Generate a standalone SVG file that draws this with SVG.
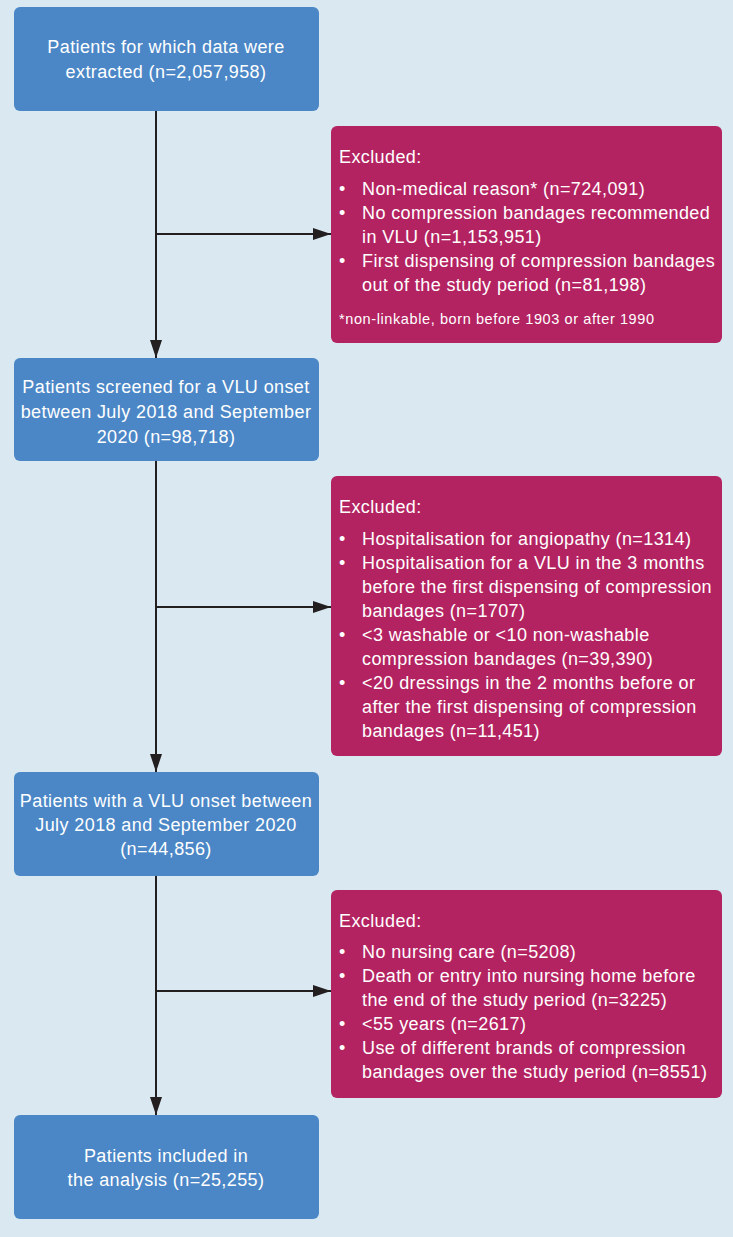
<svg xmlns="http://www.w3.org/2000/svg" width="733" height="1237" viewBox="0 0 733 1237">
<style>
.bg{fill:#d9e8f1}
.bx{fill:#4b87c6}
.ex{fill:#b42361}
.t{font-family:"Liberation Sans",Arial,sans-serif;font-size:18px;letter-spacing:0.4px;fill:#ffffff}
.c{text-anchor:middle}
.f{font-size:14.5px;letter-spacing:0.6px}
.ln{stroke:#231f20;stroke-width:2;fill:none}
</style>
<defs>
<marker id="ah" markerWidth="18" markerHeight="12" refX="18" refY="6" orient="auto" markerUnits="userSpaceOnUse">
<path d="M0,0 L18,6 L0,12 Z" fill="#231f20"/>
</marker>
</defs>
<rect class="bg" x="0" y="0" width="733" height="1237"/>
<g id="connectors">
<line class="ln" x1="156" y1="111" x2="156" y2="358" marker-end="url(#ah)"/>
<line class="ln" x1="156" y1="234" x2="331" y2="234" marker-end="url(#ah)"/>
<line class="ln" x1="156" y1="461" x2="156" y2="772" marker-end="url(#ah)"/>
<line class="ln" x1="156" y1="607" x2="331" y2="607" marker-end="url(#ah)"/>
<line class="ln" x1="156" y1="876" x2="156" y2="1115" marker-end="url(#ah)"/>
<line class="ln" x1="156" y1="991" x2="331" y2="991" marker-end="url(#ah)"/>
</g>
<g id="n1">
<rect class="bx" x="14" y="7" width="305" height="104" rx="6"/>
<text class="t c" x="166" y="53">Patients for which data were</text>
<text class="t c" x="166" y="78">extracted (n=2,057,958)</text>
</g>
<g id="e1">
<rect class="ex" x="331" y="126" width="391" height="217" rx="6"/>
<text class="t" x="339" y="163">Excluded:</text>
<text class="t" y="195"><tspan x="339">•</tspan><tspan x="362">Non-medical reason* (n=724,091)</tspan></text>
<text class="t" y="219"><tspan x="339">•</tspan><tspan x="362">No compression bandages recommended</tspan></text>
<text class="t" x="362" y="243">in VLU (n=1,153,951)</text>
<text class="t" y="267"><tspan x="339">•</tspan><tspan x="362">First dispensing of compression bandages</tspan></text>
<text class="t" x="362" y="291">out of the study period (n=81,198)</text>
<text class="t f" x="339" y="324">*non-linkable, born before 1903 or after 1990</text>
</g>
<g id="n2">
<rect class="bx" x="14" y="358" width="305" height="103" rx="6"/>
<text class="t c" x="166" y="393">Patients screened for a VLU onset</text>
<text class="t c" x="166" y="418">between July 2018 and September</text>
<text class="t c" x="166" y="443">2020 (n=98,718)</text>
</g>
<g id="e2">
<rect class="ex" x="331" y="476" width="391" height="280" rx="6"/>
<text class="t" x="339" y="513">Excluded:</text>
<text class="t" y="545"><tspan x="339">•</tspan><tspan x="362">Hospitalisation for angiopathy (n=1314)</tspan></text>
<text class="t" y="569"><tspan x="339">•</tspan><tspan x="362">Hospitalisation for a VLU in the 3 months</tspan></text>
<text class="t" x="362" y="593">before the first dispensing of compression</text>
<text class="t" x="362" y="617">bandages (n=1707)</text>
<text class="t" y="641"><tspan x="339">•</tspan><tspan x="362">&lt;3 washable or &lt;10 non-washable</tspan></text>
<text class="t" x="362" y="665">compression bandages (n=39,390)</text>
<text class="t" y="689"><tspan x="339">•</tspan><tspan x="362">&lt;20 dressings in the 2 months before or</tspan></text>
<text class="t" x="362" y="713">after the first dispensing of compression</text>
<text class="t" x="362" y="737">bandages (n=11,451)</text>
</g>
<g id="n3">
<rect class="bx" x="14" y="772" width="305" height="104" rx="6"/>
<text class="t c" x="166" y="807">Patients with a VLU onset between</text>
<text class="t c" x="166" y="831">July 2018 and September 2020</text>
<text class="t c" x="166" y="855">(n=44,856)</text>
</g>
<g id="e3">
<rect class="ex" x="331" y="890" width="391" height="208" rx="6"/>
<text class="t" x="339" y="927">Excluded:</text>
<text class="t" y="958"><tspan x="339">•</tspan><tspan x="362">No nursing care (n=5208)</tspan></text>
<text class="t" y="982"><tspan x="339">•</tspan><tspan x="362">Death or entry into nursing home before</tspan></text>
<text class="t" x="362" y="1006">the end of the study period (n=3225)</text>
<text class="t" y="1030"><tspan x="339">•</tspan><tspan x="362">&lt;55 years (n=2617)</tspan></text>
<text class="t" y="1054"><tspan x="339">•</tspan><tspan x="362">Use of different brands of compression</tspan></text>
<text class="t" x="362" y="1078">bandages over the study period (n=8551)</text>
</g>
<g id="n4">
<rect class="bx" x="14" y="1115" width="305" height="104" rx="6"/>
<text class="t c" x="166" y="1162">Patients included in</text>
<text class="t c" x="166" y="1186">the analysis (n=25,255)</text>
</g>
</svg>
